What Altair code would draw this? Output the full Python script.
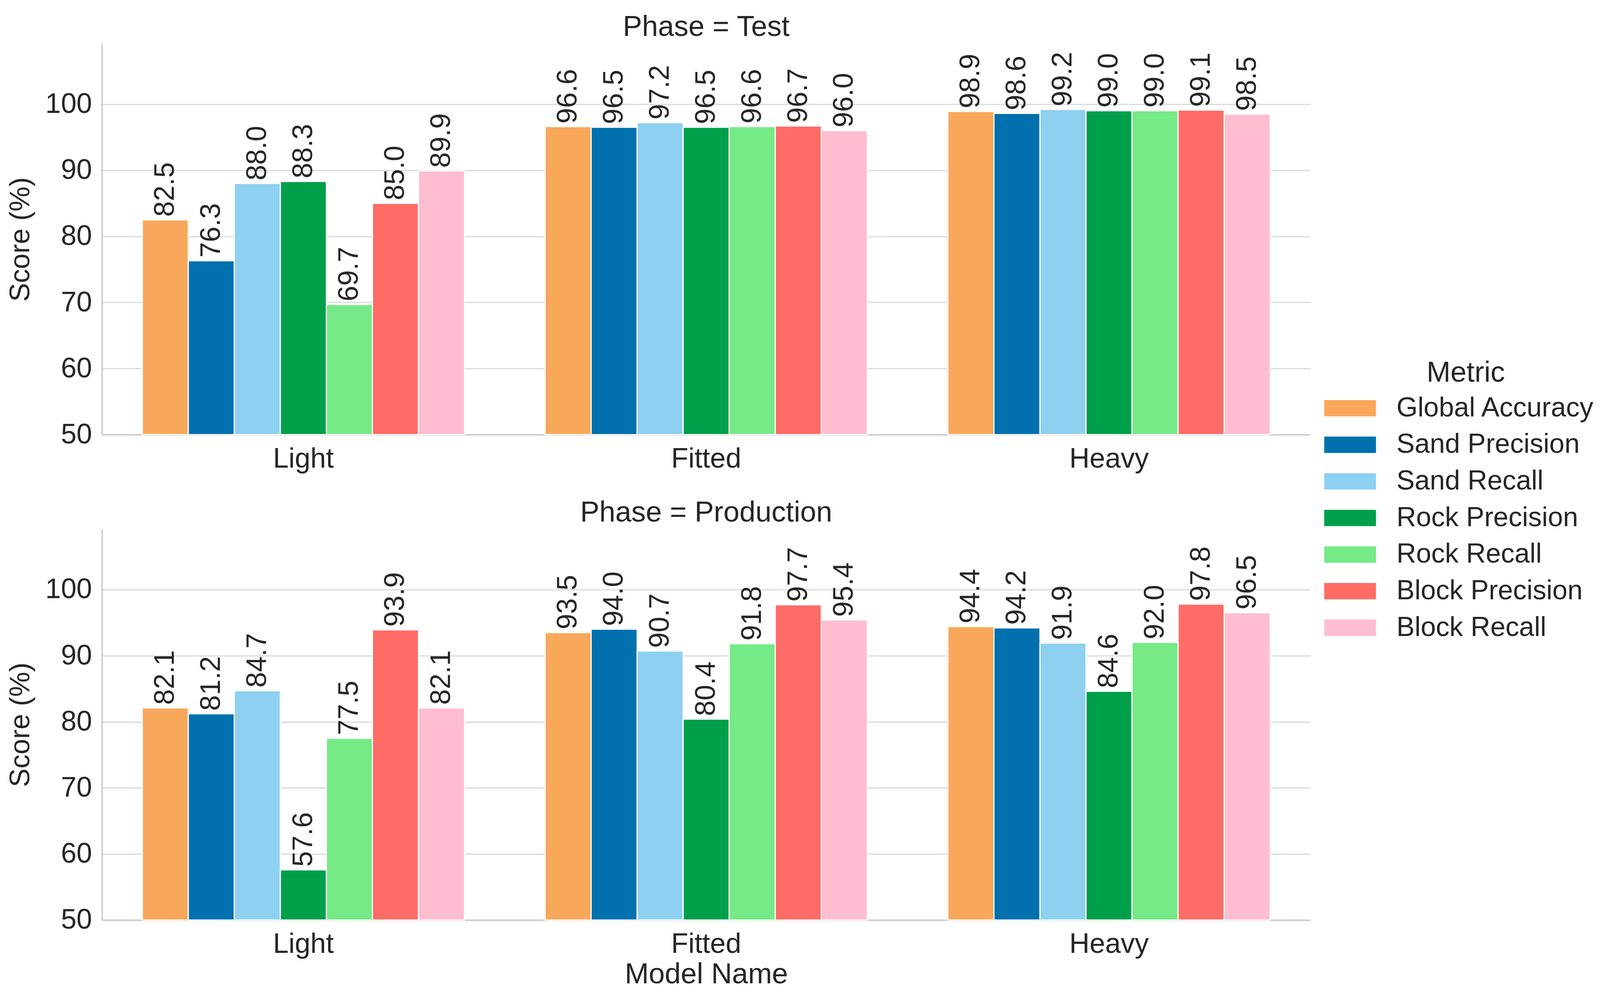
import altair as alt
import pandas as pd

phases = ["Test", "Production"]
models = ["Light", "Fitted", "Heavy"]
metrics = ["Global Accuracy", "Sand Precision", "Sand Recall", "Rock Precision",
           "Rock Recall", "Block Precision", "Block Recall"]
colors = ["#F9A85B", "#0070AE", "#8DD0F0", "#009F4A", "#75EA86", "#FF6B65", "#FFBDD0"]

test_light = [82.5, 76.3, 88.0, 88.3, 69.7, 85.0, 89.9]
test_fitted = [96.6, 96.5, 97.2, 96.5, 96.6, 96.7, 96.0]
test_heavy = [98.9, 98.6, 99.2, 99.0, 99.0, 99.1, 98.5]
prod_light = [82.1, 81.2, 84.7, 57.6, 77.5, 93.9, 82.1]
prod_fitted = [93.5, 94.0, 90.7, 80.4, 91.8, 97.7, 95.4]
prod_heavy = [94.4, 94.2, 91.9, 84.6, 92.0, 97.8, 96.5]

y_ticks = [50, 60, 70, 80, 90, 100]

series = {
    ("Test", "Light"): test_light,
    ("Test", "Fitted"): test_fitted,
    ("Test", "Heavy"): test_heavy,
    ("Production", "Light"): prod_light,
    ("Production", "Fitted"): prod_fitted,
    ("Production", "Heavy"): prod_heavy,
}
rows = []
for (ph, mo), vals in series.items():
    for me, v in zip(metrics, vals):
        rows.append({"Phase": ph, "Model": mo, "Metric": me, "Score": v})
df = pd.DataFrame(rows)

FONT = "Liberation Sans"
TICK = 72
TITLE = 74
W, H = 3105, 1004
y_max = 99.2 * 1.1

legend_path = "M-2,-0.632L2,-0.632L2,0.632L-2,0.632Z"


def panel(phase, show_xtitle):
    base = alt.Chart(df).transform_filter(alt.datum.Phase == phase).encode(
        x=alt.X("Model:N", sort=models,
                scale=alt.Scale(paddingInner=0.2, paddingOuter=0.1),
                axis=alt.Axis(title="Model Name" if show_xtitle else None,
                              labelAngle=0, ticks=False, grid=False, labelLimit=0,
                              labelPadding=27, titlePadding=6)),
        xOffset=alt.XOffset("Metric:N", sort=metrics,
                            scale=alt.Scale(paddingInner=0, paddingOuter=0)),
        y=alt.Y("Score:Q", scale=alt.Scale(domain=[50, y_max], nice=False, zero=False),
                axis=alt.Axis(values=y_ticks, title="Score (%)", ticks=False,
                              labelPadding=26, titlePadding=26, titleFontSize=72)),
    )
    bars = base.mark_bar(stroke="white", strokeWidth=3).encode(
        y2=alt.datum(50),
        color=alt.Color("Metric:N", sort=metrics,
                        scale=alt.Scale(domain=metrics, range=colors),
                        legend=alt.Legend(title="Metric", orient="none",
                                          legendX=3172, legendY=810,
                                          symbolType=legend_path, symbolSize=4422,
                                          symbolStrokeWidth=0,
                                          labelFontSize=70, titleFontSize=TITLE,
                                          labelLimit=0, titleLimit=0,
                                          titleAnchor="middle", labelOffset=84,
                                          rowPadding=24, titlePadding=17)),
    )
    text = base.mark_text(angle=270, align="left", baseline="middle", dx=8,
                          fontSize=72, color="#262626", font=FONT).encode(
        text=alt.Text("Score:Q", format=".1f"))
    return alt.layer(bars, text).properties(
        width=W, height=H,
        title=alt.TitleParams(f"Phase = {phase}", fontSize=TITLE, font=FONT,
                              fontWeight="normal", color="#262626", anchor="middle",
                              offset=4))


chart = alt.vconcat(panel("Test", False), panel("Production", True), spacing=66).configure(
    font=FONT, background="white",
    padding={"left": 8, "top": 21, "right": 5, "bottom": 5},
).configure_view(stroke=None).configure_axis(
    labelFont=FONT, titleFont=FONT, labelFontSize=TICK, titleFontSize=TITLE,
    labelColor="#262626", titleColor="#262626", titleFontWeight="normal",
    domainColor="#cccccc", domainWidth=4, gridColor="#d9d9d9", gridWidth=3,
).configure_legend(
    labelFont=FONT, titleFont=FONT, labelColor="#262626", titleColor="#262626",
    titleFontWeight="normal",
)

chart.save("out.html", embed_options={"renderer": "svg", "actions": False})
